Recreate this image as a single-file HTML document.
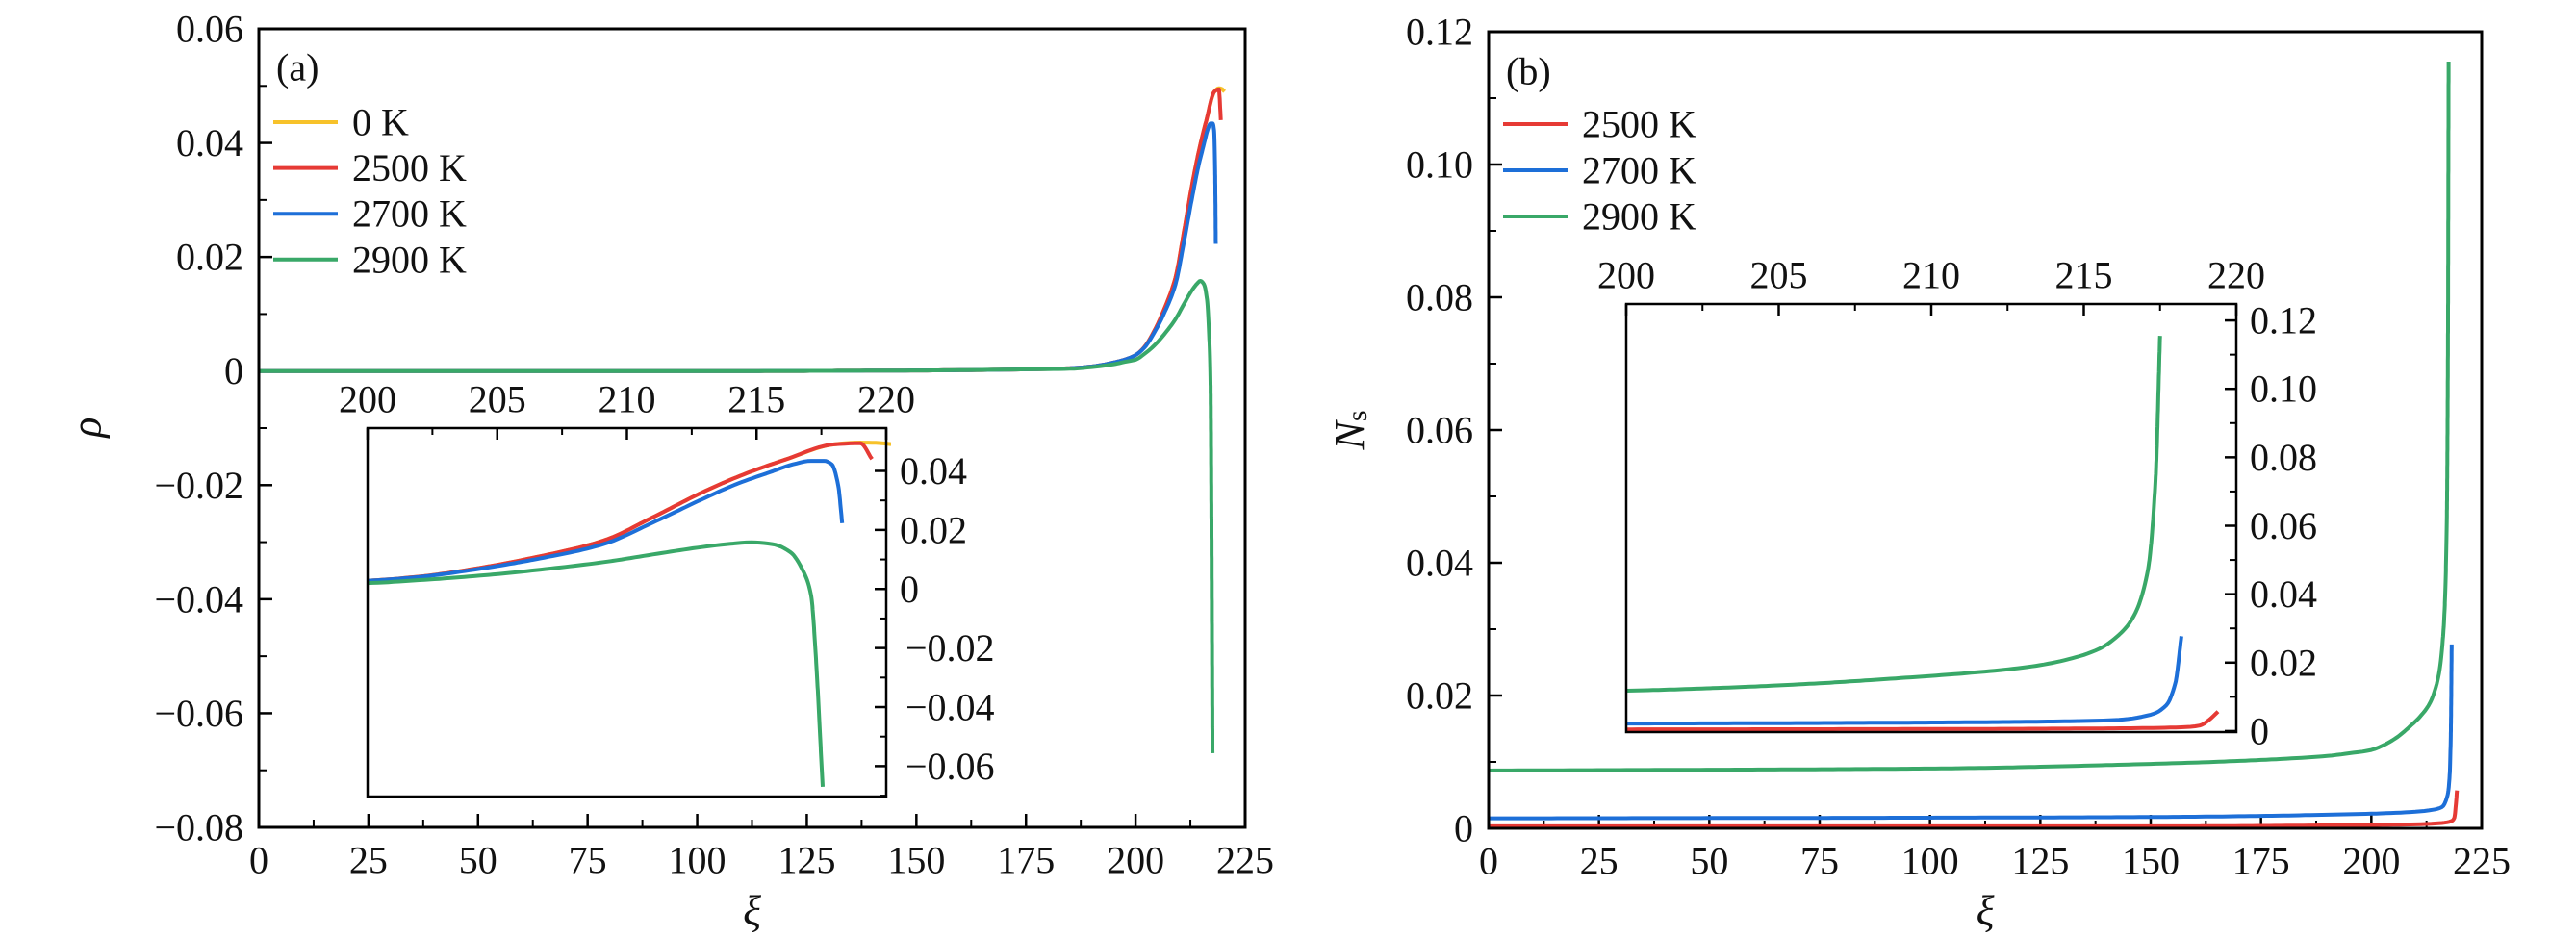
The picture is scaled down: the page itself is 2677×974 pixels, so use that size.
<!DOCTYPE html>
<html><head><meta charset="utf-8">
<style>
body{margin:0;background:#fff;}
svg text{font-family:"Liberation Serif",serif;fill:#111;}
</style></head>
<body>
<svg id="chart" width="2677" height="969" viewBox="0 0 2677 969" xmlns="http://www.w3.org/2000/svg"></svg>
<script>
// ---------- Data ----------
const aXi0 = [0,100,150,175,185,190,195,197.5,200,202,204.3,206.5,209.1,211,212.9,214.5,216.1,218.0,219.0,219.6,220.3];
const aRho0 = [0,0,0.0001,0.0003,0.0005,0.0008,0.0015,0.002,0.0028,0.0042,0.0071,0.0108,0.0164,0.0243,0.0327,0.0388,0.0438,0.049,0.0496,0.0495,0.049];
const aXi2500 = [0,100,150,175,185,190,195,197.5,200,202,204.3,206.5,209.1,211,212.9,214.5,216.1,218.0,219.0,219.45];
const aRho2500 = [0,0,0.0001,0.0003,0.0005,0.0008,0.0015,0.002,0.0028,0.0042,0.0071,0.0108,0.0164,0.0243,0.0327,0.0388,0.0438,0.049,0.0494,0.044];
const aXi2700 = [0,100,150,175,185,190,195,197.5,200,202,204.3,206.5,209.1,211,212.9,214.3,215.5,216.4,217.1,217.6,217.9,218.15,218.3];
const aRho2700 = [0,0,0.0001,0.0003,0.0005,0.0008,0.0015,0.002,0.0028,0.0041,0.0068,0.0101,0.0152,0.0225,0.0304,0.0358,0.0395,0.0422,0.0434,0.0434,0.0422,0.035,0.0223];
const aXi2900 = [0,100,150,175,185,190,195,197.5,200,202,204.3,206.5,209.1,211,212.9,214,214.8,215.6,216.3,216.8,217.1,217.3,217.45,217.55];
const aRho2900 = [0,0,0.0001,0.0003,0.0004,0.0007,0.0012,0.0016,0.002,0.003,0.0045,0.0064,0.0091,0.0117,0.0142,0.0153,0.0158,0.0152,0.0125,0.006,-0.002,-0.025,-0.05,-0.067];

const bXi2500 = [0,100,150,200,210,216,218.2,218.8,219.1,219.4];
const bNs2500 = [0.0003,0.0003,0.0003,0.0005,0.0006,0.0008,0.0011,0.0016,0.0032,0.0057];
const bXi2700 = [0,100,150,200,210,214,216,217.2,217.7,218.0,218.2];
const bNs2700 = [0.0015,0.0016,0.0017,0.0022,0.0025,0.0028,0.0032,0.0048,0.0075,0.014,0.0277];
const bXi2900 = [0,100,150,175,190,195,200,203,206,209,211,213.3,214.5,215.5,216.1,216.6,217.1,217.35,217.5];
const bNs2900 = [0.0087,0.009,0.0097,0.0103,0.0109,0.0113,0.0118,0.0126,0.0138,0.0155,0.0168,0.0189,0.021,0.024,0.0277,0.033,0.047,0.073,0.1155];

const xTicksMain = [0,25,50,75,100,125,150,175,200,225];
const xTicksInset = [200,205,210,215,220];
const aYTicks = [0.06,0.04,0.02,0,-0.02,-0.04,-0.06,-0.08];
const aInsetYTicks = [0.04,0.02,0,-0.02,-0.04,-0.06];
const bYTicks = [0.12,0.10,0.08,0.06,0.04,0.02,0];
const bInsetYTicks = [0.12,0.10,0.08,0.06,0.04,0.02,0];

const COL = {y:'#f7c22a', r:'#e63a35', b:'#1d6fd8', g:'#39a868'};
const svg = document.getElementById('chart');
const NS = 'http://www.w3.org/2000/svg';
let clipId = 0;
function mk(tag, attrs, parent){const e=document.createElementNS(NS,tag);for(const k in attrs)e.setAttribute(k,attrs[k]);(parent||svg).appendChild(e);return e;}
function fmt(v,dec){const s=Math.abs(v).toFixed(dec);if(v===0)return '0';return (v<0?'\u2212':'')+s;}
function scale(d0,d1,r0,r1){return v=>r0+(v-d0)/(d1-d0)*(r1-r0);}

function pathFrom(xs,ys,sx,sy){
  const n=xs.length,h=[],dl=[],m=new Array(n);
  for(let i=0;i<n-1;i++){h[i]=xs[i+1]-xs[i];dl[i]=(ys[i+1]-ys[i])/h[i];}
  m[0]=dl[0];m[n-1]=dl[n-2];
  for(let i=1;i<n-1;i++){
    if(dl[i-1]*dl[i]<=0)m[i]=0;
    else{const w1=2*h[i]+h[i-1],w2=h[i]+2*h[i-1];m[i]=(w1+w2)/(w1/dl[i-1]+w2/dl[i]);}
  }
  let d='M'+sx(xs[0]).toFixed(1)+','+sy(ys[0]).toFixed(1);
  for(let i=0;i<n-1;i++){
    const N=Math.max(4,Math.ceil(Math.abs(sy(ys[i+1])-sy(ys[i]))/4+Math.abs(sx(xs[i+1])-sx(xs[i]))/6));
    for(let k=1;k<=N;k++){
      const t=k/N,t2=t*t,t3=t2*t;
      const y=(2*t3-3*t2+1)*ys[i]+(t3-2*t2+t)*h[i]*m[i]+(-2*t3+3*t2)*ys[i+1]+(t3-t2)*h[i]*m[i+1];
      const x=xs[i]+t*h[i];
      d+='L'+sx(x).toFixed(1)+','+sy(y).toFixed(1);
    }
  }
  return d;
}
function curve(g,xs,ys,sx,sy,col,name,clip){
  const e=mk('path',{d:pathFrom(xs,ys,sx,sy),fill:'none',stroke:col,'stroke-width':4,'stroke-linejoin':'round','clip-path':'url(#'+clip+')'},g);
  
  
}
function clipRect(x,y,w,h){const id='c'+(clipId++);const c=mk('clipPath',{id:id});mk('rect',{x:x,y:y,width:w,height:h},c);return id;}

function text(g,x,y,s,anchor,size,name){
  const t=mk('text',{x:x,y:y,'font-size':size||40,'text-anchor':anchor||'middle','dominant-baseline':'central'},g);
  t.textContent=s;
  
  
  return t;
}

function panel(o){
  const g=mk('g',{});
  
  
  const sx=scale(0,225,o.L,o.R), sy=scale(o.y0,o.y1,o.B,o.T);
  const clip=clipRect(o.L,o.T,o.R-o.L,o.B-o.T);
  xTicksMain.forEach(v=>{const x=sx(v);mk('line',{x1:x,x2:x,y1:o.B,y2:o.B-14,stroke:'#000','stroke-width':2.5},g);
    text(g,x,o.B+34,String(v),'middle',40,'x-tick-label');});
  for(let v=12.5;v<225;v+=25){const x=sx(v);mk('line',{x1:x,x2:x,y1:o.B,y2:o.B-8,stroke:'#000','stroke-width':2},g);}
  o.yt.forEach(v=>{const y=sy(v);mk('line',{x1:o.L,x2:o.L+14,y1:y,y2:y,stroke:'#000','stroke-width':2.5},g);
    text(g,o.L-16,y,fmt(v,2),'end',40,'y-tick-label');});
  const step=o.yt[0]-o.yt[1];
  for(let i=0;i<o.yt.length-1;i++){const y=sy(o.yt[i]-step/2);mk('line',{x1:o.L,x2:o.L+8,y1:y,y2:y,stroke:'#000','stroke-width':2},g);}
  const I=o.inset;
  const ix=scale(200,220,I.L,I.R), iy=scale(I.y0,I.y1,I.B,I.T);
  o.series.forEach(s=>curve(g,s[0],s[1],sx,sy,s[2],'main-curve-'+s[3],clip));
  mk('rect',{x:I.L,y:I.T,width:I.R-I.L,height:I.B-I.T,fill:'#fff',stroke:'none'},g);
  const iclip=clipRect(I.L,I.T,I.R-I.L+(I.over||0),I.B-I.T);
  o.series.forEach(s=>curve(g,s[0],s[1],ix,iy,s[2],'inset-curve-'+s[3],iclip));
  const ib=mk('rect',{x:I.L,y:I.T,width:I.R-I.L,height:I.B-I.T,fill:'none',stroke:'#000','stroke-width':2.5},g);
  
  xTicksInset.forEach(v=>{const x=ix(v);mk('line',{x1:x,x2:x,y1:I.T,y2:I.T+12,stroke:'#000','stroke-width':2.5},g);
    text(g,x,I.T-30,String(v),'middle',40,'inset-x-tick-label');});
  for(let v=202.5;v<220;v+=5){const x=ix(v);mk('line',{x1:x,x2:x,y1:I.T,y2:I.T+7,stroke:'#000','stroke-width':2},g);}
  I.yt.forEach(v=>{const y=iy(v);mk('line',{x1:I.R,x2:I.R-12,y1:y,y2:y,stroke:'#000','stroke-width':2.5},g);
    text(g,I.R+(v<0?20:14),y,fmt(v,2),'start',40,'inset-y-tick-label');});
  const is=I.yt[0]-I.yt[1];
  for(let i=0;i<I.yt.length;i++){const y=iy(I.yt[i]-is/2);if(y<I.B&&y>I.T)mk('line',{x1:I.R,x2:I.R-7,y1:y,y2:y,stroke:'#000','stroke-width':2},g);}
  const fr=mk('rect',{x:o.L,y:o.T,width:o.R-o.L,height:o.B-o.T,fill:'none',stroke:'#000','stroke-width':3},g);
  
  o.legend.forEach((l,i)=>{const y=o.legY+i*o.legStep;
    const ln=mk('line',{x1:o.legX,x2:o.legX+67,y1:y,y2:y,stroke:l[1],'stroke-width':4},g);
    
    text(g,o.legX+82,y,l[0],'start',40,'legend-entry');});
  text(g,o.tagX,o.tagY,o.tag,'start',40,'panel-tag');
  text(g,(o.L+o.R)/2,947,'\u03BE','middle',44,'x-axis-title').setAttribute('font-style','italic');
  return g;
}

panel({name:'panel-a',L:269,R:1294,T:30,B:860,y0:-0.08,y1:0.06,yt:aYTicks,
  inset:{L:382,R:921,T:445,B:828,y0:-0.0703,y1:0.0545,yt:aInsetYTicks,over:5},
  series:[[aXi0,aRho0,COL.y,'0k'],[aXi2500,aRho2500,COL.r,'2500k'],[aXi2700,aRho2700,COL.b,'2700k'],[aXi2900,aRho2900,COL.g,'2900k']],
  legend:[['0 K',COL.y],['2500 K',COL.r],['2700 K',COL.b],['2900 K',COL.g]],legX:284,legY:127,legStep:47.6,
  tag:'(a)',tagX:287,tagY:70});
panel({name:'panel-b',L:1547,R:2579,T:33,B:861,y0:0,y1:0.12,yt:bYTicks,
  inset:{L:1690,R:2324,T:316,B:761,y0:-0.0003,y1:0.1248,yt:bInsetYTicks},
  series:[[bXi2500,bNs2500,COL.r,'2500k'],[bXi2700,bNs2700,COL.b,'2700k'],[bXi2900,bNs2900,COL.g,'2900k']],
  legend:[['2500 K',COL.r],['2700 K',COL.b],['2900 K',COL.g]],legX:1562,legY:129,legStep:48,
  tag:'(b)',tagX:1565,tagY:74});

const ya=text(svg,0,0,'\u03C1','middle',44,'y-axis-title');
ya.setAttribute('font-style','italic');ya.setAttribute('transform','translate(90,444) rotate(-90)');
const yb=mk('text',{'font-size':44,'text-anchor':'middle','dominant-baseline':'central',transform:'translate(1402,447) rotate(-90)'});


const t1=mk('tspan',{'font-style':'italic'},yb);t1.textContent='N';
const t2=mk('tspan',{'font-size':30,dy:8},yb);t2.textContent='s';
</script>
</body></html>
